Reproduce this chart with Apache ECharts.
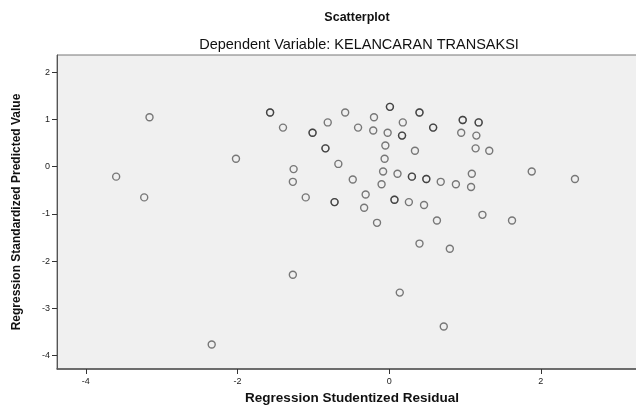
<!DOCTYPE html>
<html>
<head>
<meta charset="utf-8">
<script src="https://cdn.jsdelivr.net/npm/echarts@6/dist/echarts.min.js"></script>
<style>
  body { margin: 0; background: #fff; }
  #chart { width: 636px; height: 407px; }
</style>
</head>
<body>
<div id="chart"></div>
<script>
// studentized residual (x) vs standardized predicted value (y)
// repeated pairs are overlapping cases, they print darker
const residual = [
  -3.16, -2.02, -3.60, -3.23,
  -1.57, -1.57, -0.58, 0.01, 0.01, 0.40, 0.40, -0.20, 0.97, 0.97, 1.18, 1.18,
  -1.40, -0.81, -0.41, -0.21, 0.18, -1.01, -1.01, -0.02, 0.17, 0.17, 0.58, 0.58,
  0.95, 1.15, -0.84, -0.84, -0.05, 0.34, 1.14, 1.32, -0.67, -0.06, -1.26,
  -0.08, 0.11, 0.30, 0.30, 0.49, 0.49, 0.68, 0.88, 1.09, 1.08, -1.27, -0.48,
  -0.10, -1.10, -0.72, -0.72, -0.31, -0.33, 0.07, 0.07, 0.26, 0.46, -0.16,
  0.63, 1.23, 1.88, 2.45, 1.62,
  -1.27, -2.34, 0.40, 0.80, 0.14, 0.72
];
const predicted = [
  1.05, 0.17, -0.21, -0.65,
  1.15, 1.15, 1.15, 1.27, 1.27, 1.15, 1.15, 1.05, 0.99, 0.99, 0.94, 0.94,
  0.83, 0.94, 0.83, 0.77, 0.94, 0.72, 0.72, 0.72, 0.66, 0.66, 0.83, 0.83,
  0.72, 0.66, 0.39, 0.39, 0.45, 0.34, 0.39, 0.34, 0.06, 0.17, -0.05,
  -0.10, -0.15, -0.21, -0.21, -0.26, -0.26, -0.32, -0.37, -0.15, -0.43, -0.32, -0.27,
  -0.37, -0.65, -0.75, -0.75, -0.59, -0.87, -0.70, -0.70, -0.75, -0.81, -1.19,
  -1.14, -1.02, -0.10, -0.26, -1.14,
  -2.29, -3.77, -1.63, -1.74, -2.67, -3.39
];
const xTicks = [-4, -2, 0, 2];
const yTicks = [2, 1, 0, -1, -2, -3, -4];

let points = residual.map((r, i) => [r, predicted[i]]);

let chart = echarts.init(document.getElementById('chart'));
chart.setOption({
  animation: false,
  textStyle: { fontFamily: 'Liberation Sans, Arial, sans-serif' },
  title: [
    {
      text: 'Scatterplot',
      left: 352, top: 6, textAlign: 'center',
      textStyle: { fontSize: 12.5, fontWeight: 'bold', color: '#111' }
    },
    {
      text: 'Dependent Variable: KELANCARAN TRANSAKSI',
      left: 354, top: 32, textAlign: 'center',
      textStyle: { fontSize: 14.5, fontWeight: 'normal', color: '#111' }
    }
  ],
  grid: {
    left: 57, right: -11, top: 55, bottom: 38,
    outerBoundsMode: 'none',
    show: true,
    backgroundColor: '#f0f0f0',
    borderColor: '#777',
    borderWidth: 1
  },
  xAxis: {
    type: 'value',
    min: -4.38, max: 3.40,
    name: 'Regression Studentized Residual',
    nameLocation: 'middle',
    nameGap: 22,
    nameTextStyle: { fontSize: 13.5, fontWeight: 'bold', color: '#111' },
    splitLine: { show: false },
    axisLine: { show: true, onZero: false, lineStyle: { color: '#555', width: 1.5 } },
    axisTick: { show: true, length: 5, customValues: xTicks, lineStyle: { color: '#333' } },
    axisLabel: { customValues: xTicks, fontSize: 9, color: '#222', margin: 8 }
  },
  yAxis: {
    type: 'value',
    min: -4.29, max: 2.37,
    name: 'Regression Standardized Predicted Value',
    nameLocation: 'middle',
    nameGap: 34,
    nameTextStyle: { fontSize: 12, fontWeight: 'bold', color: '#111' },
    splitLine: { show: false },
    axisLine: { show: true, onZero: false, lineStyle: { color: '#555', width: 1 } },
    axisTick: { show: true, length: 5, customValues: yTicks, lineStyle: { color: '#333' } },
    axisLabel: { customValues: yTicks, fontSize: 9, color: '#222', margin: 7 }
  },
  series: [
    {
      type: 'scatter',
      data: points,
      symbol: 'circle',
      symbolSize: 7,
      itemStyle: { color: 'transparent', borderColor: 'rgba(30,30,30,0.72)', borderWidth: 1.4 }
    }
  ]
});
</script>
</body>
</html>
